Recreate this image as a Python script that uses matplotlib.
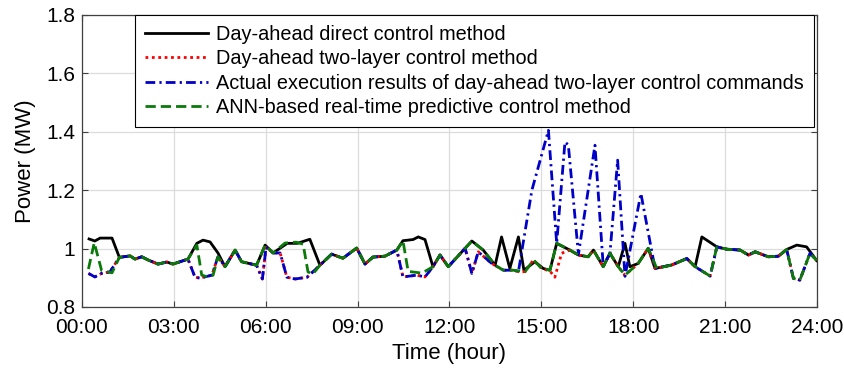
import matplotlib
matplotlib.use("Agg")
import matplotlib.pyplot as plt
from matplotlib.ticker import FuncFormatter

plt.rcParams['font.family'] = ['Liberation Sans', 'DejaVu Sans']

# ---------------- data (hours, MW) ----------------
t_actual = [0.21, 0.42, 0.64, 0.91, 1.22, 1.57, 1.73, 1.95, 2.16, 2.48, 2.77, 2.97, 3.46, 3.69, 3.85,
            4.24, 4.44, 4.67, 5.00, 5.21, 5.42, 5.70, 5.89, 6.01, 6.24, 6.47, 6.69, 6.96, 7.35, 7.77,
            8.15, 8.52, 8.97, 9.24, 9.50, 9.89, 10.28, 10.48, 10.93, 11.20, 11.46, 11.69, 11.96, 12.51,
            12.73, 12.94, 13.38, 13.76, 14.08, 14.25, 14.69, 15.23, 15.50, 15.77, 15.88, 16.21, 16.75,
            17.02, 17.24, 17.49, 17.73, 18.25, 18.71, 19.26, 19.75, 20.02, 20.51, 20.73, 21.05, 21.49,
            21.76, 21.98, 22.41, 22.74, 23.01, 23.23, 23.44, 23.77, 23.99]
p_actual = [0.915, 0.903, 0.915, 0.920, 0.970, 0.975, 0.964, 0.972, 0.961, 0.947, 0.954, 0.947, 0.964, 0.902, 0.899,
            0.909, 0.972, 0.938, 0.995, 0.955, 0.950, 0.943, 0.896, 1.005, 0.985, 0.985, 0.902, 0.896, 0.902, 0.943,
            0.981, 0.967, 1.002, 0.947, 0.971, 0.974, 0.995, 0.903, 0.909, 0.903, 0.938, 0.978, 0.938, 1.001,
            0.915, 0.989, 0.949, 0.926, 0.926, 0.921, 1.200, 1.405, 1.018, 1.365, 1.355, 0.980, 1.354,
            0.940, 0.984, 1.303, 0.905, 1.189, 0.932, 0.944, 0.966, 0.938, 0.906, 1.006, 0.998, 0.995,
            0.978, 0.989, 0.972, 0.974, 0.997, 0.898, 0.892, 0.984, 0.959]

t_twolayer = [0.21, 0.42, 0.64, 0.91, 1.22, 1.57, 1.73, 1.95, 2.16, 2.48, 2.77, 2.97, 3.46, 3.69, 3.85,
              4.24, 4.44, 4.67, 5.00, 5.21, 5.42, 5.70, 5.89, 6.01, 6.24, 6.47, 6.69, 6.96, 7.35, 7.77,
              8.15, 8.52, 8.97, 9.24, 9.50, 9.89, 10.28, 10.48, 10.93, 11.20, 11.46, 11.69, 11.96, 12.51,
              12.73, 12.94, 13.38, 13.76, 14.08, 14.25, 14.47, 14.74, 15.01, 15.28, 15.44, 15.66, 15.93,
              16.21, 16.53, 16.70, 17.02, 17.24, 17.51, 17.73, 18.16, 18.49, 18.71, 19.26, 19.75, 20.02,
              20.51, 20.73, 21.05, 21.49, 21.76, 21.98, 22.41, 22.74, 23.01, 23.23, 23.44, 23.77, 23.99]
p_twolayer = [0.915, 0.903, 0.915, 0.920, 0.970, 0.975, 0.964, 0.972, 0.961, 0.947, 0.954, 0.947, 0.964, 0.902, 0.899,
              0.909, 0.972, 0.938, 0.995, 0.955, 0.950, 0.943, 0.896, 1.005, 0.985, 0.985, 0.902, 0.896, 0.902, 0.943,
              0.981, 0.967, 1.002, 0.947, 0.971, 0.974, 0.995, 0.903, 0.909, 0.903, 0.938, 0.978, 0.938, 1.001,
              0.915, 0.989, 0.949, 0.926, 0.926, 0.921, 0.921, 0.961, 0.932, 0.923, 0.902, 0.984, 0.995,
              0.978, 0.972, 0.995, 0.938, 0.984, 0.938, 0.909, 0.949, 1.001, 0.932, 0.944, 0.966, 0.938,
              0.906, 1.006, 0.998, 0.995, 0.978, 0.989, 0.972, 0.974, 0.997, 0.898, 0.892, 0.984, 0.959]

t_direct = [0.23, 0.42, 0.59, 0.98, 1.22, 1.57, 1.73, 1.95, 2.16, 2.48, 2.77, 2.97, 3.46, 3.75, 3.95,
            4.18, 4.44, 4.67, 5.00, 5.21, 5.42, 5.70, 5.98, 6.24, 6.70, 7.03, 7.44, 7.77,
            8.15, 8.52, 8.97, 9.24, 9.50, 9.89, 10.28, 10.48, 10.81, 10.98, 11.20, 11.46, 11.69, 11.96,
            12.51, 12.73, 13.10, 13.49, 13.70, 13.97, 14.25, 14.43, 14.79, 15.06, 15.28, 15.50, 15.93,
            16.21, 16.53, 16.70, 17.02, 17.24, 17.51, 17.73, 17.89, 18.16, 18.49, 18.71, 19.26, 19.75,
            20.02, 20.24, 20.73, 21.05, 21.49, 21.76, 21.98, 22.41, 22.74, 23.01, 23.34, 23.66, 23.99]
p_direct = [1.033, 1.026, 1.036, 1.036, 0.970, 0.975, 0.964, 0.972, 0.961, 0.947, 0.954, 0.947, 0.964, 1.018, 1.029,
            1.023, 0.985, 0.938, 0.995, 0.955, 0.950, 0.943, 1.012, 0.985, 1.018, 1.018, 1.032, 0.943,
            0.981, 0.967, 1.002, 0.947, 0.971, 0.974, 0.995, 1.027, 1.031, 1.040, 1.031, 0.938, 0.978, 0.938,
            1.001, 1.026, 0.995, 0.943, 1.040, 0.932, 1.040, 0.926, 0.955, 0.932, 0.926, 1.018, 0.995,
            0.978, 0.972, 0.995, 0.938, 0.984, 0.938, 1.018, 0.938, 0.949, 1.001, 0.932, 0.944, 0.966,
            0.938, 1.040, 1.006, 0.998, 0.995, 0.978, 0.989, 0.972, 0.974, 0.997, 1.012, 1.006, 0.959]

t_ann = [0.21, 0.40, 0.64, 0.98, 1.22, 1.57, 1.73, 1.95, 2.16, 2.48, 2.77, 2.97, 3.46, 3.75, 3.91,
         4.11, 4.28, 4.44, 4.67, 5.00, 5.21, 5.42, 5.70, 5.98, 6.24, 6.63, 6.99, 7.22, 7.38, 7.54, 7.77,
         8.15, 8.52, 8.97, 9.24, 9.50, 9.89, 10.28, 10.48, 10.65, 11.10, 11.46, 11.69, 11.96, 12.51,
         12.73, 13.10, 13.49, 13.76, 14.08, 14.47, 14.74, 15.01, 15.28, 15.50, 15.93, 16.21, 16.53,
         16.70, 17.02, 17.24, 17.51, 17.73, 18.16, 18.49, 18.77, 19.26, 19.75, 20.02, 20.51, 20.73,
         21.05, 21.49, 21.76, 21.98, 22.41, 22.74, 23.01, 23.23, 23.44, 23.77, 23.99]
p_ann = [0.930, 1.020, 0.925, 0.917, 0.970, 0.975, 0.964, 0.972, 0.961, 0.947, 0.954, 0.947, 0.964, 1.012, 0.909,
         0.903, 0.909, 0.972, 0.938, 0.995, 0.955, 0.950, 0.943, 1.012, 0.985, 1.019, 1.022, 1.015, 0.920, 0.913, 0.943,
         0.981, 0.967, 1.002, 0.947, 0.971, 0.974, 0.995, 1.027, 0.922, 0.916, 0.938, 0.978, 0.938, 1.001,
         1.026, 0.995, 0.943, 0.926, 0.926, 0.921, 0.961, 0.932, 0.926, 1.018, 0.995, 0.978, 0.972,
         0.995, 0.938, 0.984, 0.938, 0.909, 0.949, 1.001, 0.932, 0.944, 0.966, 0.938, 0.906, 1.006,
         0.998, 0.995, 0.978, 0.989, 0.972, 0.974, 0.997, 0.898, 0.892, 0.984, 0.959]

labels = ["Day-ahead direct control method",
          "Day-ahead two-layer control method",
          "Actual execution results of day-ahead two-layer control commands",
          "ANN-based real-time predictive control method"]
x_ticks = [0, 3, 6, 9, 12, 15, 18, 21, 24]
x_ticklabels = ["00:00", "03:00", "06:00", "09:00", "12:00", "15:00", "18:00", "21:00", "24:00"]
y_ticks = [0.8, 1.0, 1.2, 1.4, 1.6, 1.8]

# ---------------- plot ----------------
fig = plt.figure(figsize=(8.45, 3.8), dpi=100)
ax = fig.add_axes([82 / 845, 1 - 307 / 380, 735 / 845, 292 / 380])

lw = 2.0
ax.plot(t_direct, p_direct, color='black', lw=lw, ls='-', label=labels[0], zorder=3)
ax.plot(t_twolayer, p_twolayer, color='#ff0000', lw=lw, ls=(0, (1, 1.3)), label=labels[1], zorder=4)
ax.plot(t_actual, p_actual, color='#0000c8', lw=lw, ls=(0, (3.5, 1.5, 0.8, 1.5)), label=labels[2], zorder=5)
ax.plot(t_ann, p_ann, color='#0a7a0a', lw=lw, ls=(0, (3.7, 1.8)), label=labels[3], zorder=6)

ax.set_xlim(0, 24)
ax.set_ylim(0.8, 1.8)
ax.set_xticks(x_ticks)
ax.set_xticklabels(x_ticklabels)
ax.set_yticks(y_ticks)
ax.yaxis.set_major_formatter(FuncFormatter(lambda v, p: f"{v:g}"))
ax.tick_params(direction='in', top=True, right=True, labelsize=15, length=4, color='#404040')
ax.tick_params(axis='x', pad=8)
ax.tick_params(axis='y', pad=5)
ax.grid(True, color='#dcdcdc', lw=0.9)
ax.set_axisbelow(True)
for s in ax.spines.values():
    s.set_color('#404040')
    s.set_linewidth(0.9)

ax.set_xlabel("Time (hour)", fontsize=16, labelpad=4)
ax.set_ylabel("Power (MW)", fontsize=16, labelpad=7)

leg = ax.legend(loc='upper left', bbox_to_anchor=(0.072, 1.0), borderaxespad=0,
                fontsize=14.3, handlelength=3.2, labelspacing=0.27, fancybox=False,
                edgecolor='black', framealpha=1, borderpad=0.5, handletextpad=0.4)
leg.get_frame().set_linewidth(0.8)

fig.savefig("out.png", dpi=100)
